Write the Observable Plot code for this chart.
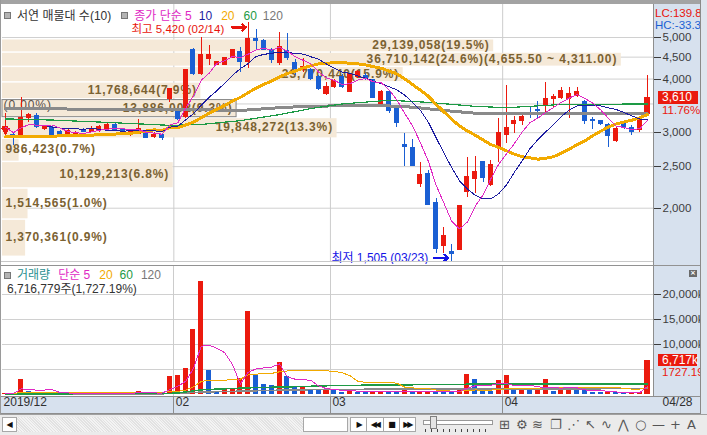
<!DOCTYPE html>
<html lang="ko">
<head>
<meta charset="utf-8">
<script src="https://cdn.jsdelivr.net/npm/d3@7"></script>
<script src="https://cdn.jsdelivr.net/npm/@observablehq/plot@0.6"></script>
<style>
html,body{margin:0;padding:0;background:#fff;}
#wrap{position:relative;width:707px;height:435px;overflow:hidden;background:#fff;font-family:"Liberation Sans",Arial,sans-serif;}
.sq{display:inline-block;width:5px;height:5px;background:#b4b4b4;border:1px solid #777;}
.lg3{font-family:"Liberation Sans","Noto Sans CJK KR",sans-serif;font-size:12px;line-height:12px;height:12px;white-space:nowrap;display:flex;align-items:center;}
.ic{position:absolute;top:0;font:13px/19px "DejaVu Sans",sans-serif;color:#555;}
</style>
</head>
<body>
<div id="wrap"></div>
<script>
// ---------------- data ----------------
const dates = [
"2019-12-27","2019-12-30",
"2020-01-02","2020-01-03","2020-01-06","2020-01-07","2020-01-08","2020-01-09","2020-01-10","2020-01-13","2020-01-14","2020-01-15","2020-01-16","2020-01-17","2020-01-20","2020-01-21","2020-01-22","2020-01-23","2020-01-28","2020-01-29","2020-01-30","2020-01-31",
"2020-02-03","2020-02-04","2020-02-05","2020-02-06","2020-02-07","2020-02-10","2020-02-11","2020-02-12","2020-02-13","2020-02-14","2020-02-17","2020-02-18","2020-02-19","2020-02-20","2020-02-21","2020-02-24","2020-02-25","2020-02-26","2020-02-27","2020-02-28",
"2020-03-02","2020-03-03","2020-03-04","2020-03-05","2020-03-06","2020-03-09","2020-03-10","2020-03-11","2020-03-12","2020-03-13","2020-03-16","2020-03-17","2020-03-18","2020-03-19","2020-03-20","2020-03-23","2020-03-24","2020-03-25","2020-03-26","2020-03-27","2020-03-30","2020-03-31",
"2020-04-01","2020-04-02","2020-04-03","2020-04-06","2020-04-07","2020-04-08","2020-04-09","2020-04-10","2020-04-13","2020-04-14","2020-04-16","2020-04-17","2020-04-20","2020-04-21","2020-04-22","2020-04-23","2020-04-24","2020-04-27","2020-04-28"];

const open = [3050,2965,
2910,3240,3280,3055,3080,3010,2975,2975,3025,3010,3035,3065,3130,3065,2965,2980,2990,2930,2965,3585,
3350,3255,4665,4120,4445,4320,4325,4485,4620,4380,4965,4920,4680,4355,4640,4355,4205,4190,4055,3695,
3830,4055,3730,4040,4075,3970,3470,3730,3410,2810,2765,2280,2405,2055,1635,1580,1600,2185,2335,2560,2270,2760,
2955,3135,3190,3340,3390,3485,3600,3610,3600,3650,3545,3210,3200,3120,2865,3135,3080,3050,3320];
const high = [3325,2985,
3630,3320,3320,3120,3105,3035,3045,3020,3065,3105,3120,3145,3145,3075,3045,3215,3010,3010,2985,3785,
3360,4195,4715,5010,4790,4405,4490,4690,4745,5420,5210,4945,4715,5145,5100,4435,4470,4235,4075,3925,
3990,4100,4120,4190,4120,3990,3760,3760,3435,2990,2885,2560,2450,2105,1800,1650,2025,2630,2640,2570,2585,3230,
3865,3280,3340,3430,3550,3920,3680,3815,3830,3815,3565,3250,3210,3145,3090,3155,3120,3260,4080];
const low = [3035,2800,
2900,3175,3065,3035,2905,2955,2965,2955,3000,3000,3010,3045,3020,2985,2945,2970,2905,2905,2875,3535,
3200,3235,4075,4075,4300,4300,4300,4470,4150,4225,4665,4665,4340,4300,4420,4075,4145,3970,3760,3660,
3805,3805,3720,4010,3970,3595,3440,3320,3090,2500,2500,2240,2025,1565,1565,1505,1590,2115,2170,2300,2245,2560,
2825,2980,3120,3230,3215,3330,3440,3580,3230,3630,3135,3045,3120,2765,2850,3045,2955,3010,3290];
const close = [3090,2910,
3240,3290,3090,3090,2920,2970,3020,3000,3015,3065,3090,3120,3035,3000,3020,3065,2910,2965,2915,3785,
3230,4195,4120,4540,4540,4380,4470,4665,4380,4965,4920,4680,4420,4745,4475,4225,4265,4010,3795,3830,
3960,3830,4100,4165,4005,3610,3730,3365,3155,2775,2515,2395,2030,1610,1720,1560,2025,2370,2435,2355,2525,2990,
3080,3200,3260,3310,3365,3600,3630,3760,3695,3740,3190,3195,3145,2945,3065,3075,3010,3230,3610];
const volume = [200000,150000,
3000000,600000,400000,300000,350000,200000,250000,180000,200000,260000,300000,280000,350000,250000,200000,500000,300000,250000,200000,3600000,
3800000,5200000,12900000,22500000,4800000,500000,900000,950000,3200000,16600000,3800000,1900000,1800000,6400000,3600000,1500000,1550000,1000000,850000,900000,
800000,450000,800000,450000,420000,600000,620000,580000,300000,900000,600000,620000,640000,600000,580000,300000,800000,4000000,3000000,650000,640000,2800000,
3800000,900000,1100000,800000,1100000,3000000,600000,900000,1050000,1040000,900000,450000,300000,600000,300000,280000,330000,388885,6716779];

const ma20EarlyDates = ["2019-12-27","2020-01-08","2020-01-16","2020-01-22"];
const ma20EarlyVals  = [2935,2945,2965,2990];
const vma20EarlyDates= ["2019-12-27","2020-01-02","2020-01-17"];
const vma20EarlyVals = [200000,330000,400000];
const ma60Dates  = ["2019-12-27","2020-01-08","2020-01-17","2020-01-31","2020-02-06","2020-02-13","2020-02-20","2020-02-26","2020-03-03","2020-03-11","2020-03-18","2020-03-26","2020-04-01","2020-04-10","2020-04-28"];
const ma60Vals   = [3230,3210,3170,3120,3135,3200,3305,3415,3500,3570,3530,3455,3430,3490,3500];
const ma120Dates = ["2019-12-27","2020-01-31","2020-02-13","2020-02-21","2020-03-02","2020-03-10","2020-03-16","2020-03-20","2020-03-26","2020-04-01","2020-04-28"];
const ma120Vals  = [3410,3400,3380,3440,3465,3470,3440,3380,3330,3320,3320];
const vma60Dates = ["2019-12-27","2020-01-30","2020-02-03","2020-02-06","2020-02-14","2020-02-25","2020-03-02","2020-03-31","2020-04-28"];
const vma60Vals  = [140000,160000,300000,930000,1330000,1590000,1790000,2100000,2130000];
const vma120Dates= ["2019-12-27","2020-01-30","2020-02-03","2020-02-06","2020-02-14","2020-02-20","2020-02-28","2020-03-12","2020-03-31","2020-04-28"];
const vma120Vals = [120000,140000,200000,480000,700000,860000,1000000,1080000,1130000,1150000];

// volume profile (매물대 10)
const bandEdges   = [5000,4655.5,4311,3966.5,3622,3277.5,2933,2588.5,2244,1899.5,1555];
const bandVolumes = [29139058,36710142,23770440,11768644,13886002,19848272,986423,10129213,1514565,1370361];
const extraLabels = [{text:"(0.00%)", price:3470}];

// tick values
const priceGrid  = [2000,2500,3000,3500,4000,4500,5000];
const priceTicks = [2000,2500,3000,4000,4500,5000];
const volGrid    = [5000000,10000000,15000000,20000000];
const volTicks   = [10000000,15000000,20000000];

// ---------------- setup ----------------
const RED="#eb1a0e", BLUE="#1a5fd3", MAG="#e028c4", NAVY="#1c1ca0", ORANGE="#f2aa00", GREEN="#1d9a45", GRAY="#8a8a8a";
const W = 707;
const fmt = d3.format(","), fmt2 = d3.format(",.2f");
const idx = new Map(dates.map((d,i)=>[d,i]));
const rows = dates.map((d,i)=>({i, date:d, open:open[i], high:high[i], low:low[i], close:close[i], vol:volume[i],
  up: close[i] >= open[i], vup: i === 0 ? true : volume[i] >= volume[i-1]}));
const pts = (ds, vs) => ds.map((d,k)=>({i: idx.get(d), v: vs[k]}));
const ma60 = pts(ma60Dates, ma60Vals), ma120 = pts(ma120Dates, ma120Vals);
const vma60 = pts(vma60Dates, vma60Vals), vma120 = pts(vma120Dates, vma120Vals);
const N = dates.length;
// early parts of the 20-day averages joined to the first full window
const full20 = rows.slice(0, 20);
const ma20Early = pts(ma20EarlyDates, ma20EarlyVals).concat([{i:19, v:d3.mean(full20, d=>d.close)}]);
const vma20Early = pts(vma20EarlyDates, vma20EarlyVals).concat([{i:19, v:d3.mean(full20, d=>d.vol)}]);

const xDom = [0, N-1], xRange = [5, 647];
const yPrice = {type:"log", domain:[2000,5000], range:[207.7,37]};
const monthStarts = dates.map((d,i)=> (i>5 && d.slice(5,7)!==dates[i-1].slice(5,7)) ? i : null).filter(v=>v!==null);
const sepTicks = monthStarts.map(i=>i-0.5);
const dateLabels = [{x:-0.5, label: dates[0].slice(0,4)+"/"+dates[0].slice(5,7)}]
  .concat(monthStarts.map(i=>({x:i-0.5, label:dates[i].slice(5,7)})));
const last = rows[N-1], prev = rows[N-2];
const hiRow = rows.reduce((a,b)=> b.high > a.high ? b : a);
const loRow = rows.reduce((a,b)=> b.low < a.low ? b : a);
const mmdd = d => d.slice(5,7)+"/"+d.slice(8,10);

const total = d3.sum(bandVolumes), vmax = d3.max(bandVolumes);
const bands = bandVolumes.map((v,k)=>({v, hi:bandEdges[k], lo:bandEdges[k+1],
  label: `${fmt(v)}(${(v/total*100).toFixed(1)}%)` + (v===vmax ? `(${fmt2(bandEdges[k])} ~ ${fmt2(bandEdges[k+1])})` : "")}));
const curBand = bands.filter(b => b.lo <= last.close && last.close < b.hi);

const wrap = document.getElementById("wrap");
function el(style, html="", parent=wrap, cls="") {
  const d = document.createElement("div");
  d.style.cssText = "position:absolute;" + style;
  if (cls) d.className = cls;
  d.innerHTML = html;
  parent.appendChild(d);
  return d;
}
function place(svg, top, z) {
  svg.style.position = "absolute"; svg.style.left = "0px"; svg.style.top = top + "px"; svg.style.zIndex = z;
  wrap.appendChild(svg);
}

// ---------------- backgrounds ----------------
el("left:653px;top:4px;width:47px;height:392px;background:#d7e1ee;border-left:1px solid #8e8e8e;box-sizing:border-box;z-index:0;");
el("left:0;top:396px;width:707px;height:18px;background:#d7e1ee;border-top:1px solid #8e8e8e;border-bottom:1px solid #8e8e8e;box-sizing:border-box;z-index:0;");

const common = {width:W, marginLeft:2, marginRight:54};
const KRF = "'Liberation Sans', 'Noto Sans CJK KR', sans-serif";

// grid layer (price pane)
const gridPlot = Plot.plot({...common, height:264, marginTop:4, marginBottom:2,
  x:{domain:xDom, range:xRange, axis:null}, y:{...yPrice, axis:null},
  style:{background:"transparent"},
  marks:[
    Plot.ruleY(priceGrid, {stroke:"#d0d0d0"}),
    Plot.ruleX(sepTicks, {stroke:"#cccccc"})
  ]});
place(gridPlot, 0, 1);

// volume-profile layer
const profPlot = Plot.plot({...common, height:264, marginTop:4, marginBottom:2,
  x:{domain:[0, vmax*1.052], range:[2,653], axis:null}, y:{...yPrice, axis:null},
  style:{background:"transparent", fontFamily:"'Liberation Sans', Arial, sans-serif", fontSize:"12px", fontWeight:"bold", letterSpacing:"0.9px"},
  marks:[
    Plot.rect(bands, {x1:d=>0, x2:"v", y1:"lo", y2:"hi", fill:"#f5e9d8", insetTop:2.5, insetBottom:-1}),
    Plot.rect(curBand, {x1:d=>0, x2:"v", y1:"lo", y2:"hi", fill:"none", stroke:"#858585", insetTop:2.5, insetBottom:-1}),
    Plot.text(bands.filter(b=>b.v>5e6), {x:"v", y:b=>Math.sqrt(b.lo*b.hi), text:"label", textAnchor:"end", dx:-4, dy:1, fill:"#7b6232"}),
    Plot.text(bands.filter(b=>b.v<=5e6), {x:d=>0, y:b=>Math.sqrt(b.lo*b.hi), text:"label", textAnchor:"start", dx:3, dy:1, fill:"#7b6232"}),
    Plot.text(extraLabels, {x:d=>0, y:"price", text:"text", textAnchor:"start", dx:1, fill:"#5a5048", fontWeight:"normal"})
  ]});
place(profPlot, 0, 2);

// candles + moving averages
const pricePlot = Plot.plot({...common, height:264, marginTop:4, marginBottom:2,
  x:{domain:xDom, range:xRange, axis:null}, y:yPrice,
  style:{background:"transparent", fontFamily:"'Liberation Sans', Arial, sans-serif", fontSize:"11.5px", shapeRendering:"crispEdges"},
  marks:[
    Plot.ruleX(rows, {x:"i", y1:"low", y2:"high", stroke:d=>d.up?RED:BLUE}),
    Plot.rect(rows, {x1:d=>d.i-0.32, x2:d=>d.i+0.32, y1:d=>Math.min(d.open,d.close), y2:d=>Math.max(d.open,d.close),
      fill:d=>d.up?RED:BLUE, insetTop:-0.5, insetBottom:-0.5}),
    Plot.dot([rows[0]], {x:"i", y:"open", symbol:"triangle", rotate:180, r:3.2, fill:RED, dy:1}),
    Plot.line(ma120, {x:"i", y:"v", stroke:GRAY, strokeWidth:3}),
    Plot.line(ma60, {x:"i", y:"v", stroke:GREEN, strokeWidth:1.2}),
    Plot.line(ma20Early, {x:"i", y:"v", stroke:ORANGE, strokeWidth:3}),
    Plot.line(rows, Plot.windowY({k:20, anchor:"end", strict:true}, {x:"i", y:"close", stroke:ORANGE, strokeWidth:3})),
    Plot.line(rows, Plot.windowY({k:10, anchor:"end"}, {x:"i", y:"close", stroke:NAVY, strokeWidth:1})),
    Plot.line(rows, Plot.windowY({k:5, anchor:"end"}, {x:"i", y:"close", stroke:MAG, strokeWidth:1})),
    Plot.axisY({anchor:"right", ticks:priceTicks, tickFormat:fmt, tickSize:7, tickPadding:2, color:"#3c3c3c", label:null}),
    Plot.text([hiRow], {x:"i", y:"high", text:d=>`최고 ${fmt(d.high)} (${mmdd(d.date)})`, textAnchor:"end", dx:-24, dy:7,
      fill:"#e8140c", fontFamily:KRF, fontSize:11.5}),
    Plot.arrow([hiRow], {x1:d=>d.i-2.1, x2:d=>d.i-0.28, y1:"high", y2:"high", dy:5, stroke:"#e8140c", strokeWidth:2.2, headLength:6, headAngle:80}),
    Plot.text([loRow], {x:"i", y:"low", text:d=>`최저 ${fmt(d.low)} (${mmdd(d.date)})`, textAnchor:"end", dx:-23.5, dy:-3.4,
      fill:"#1414e6", fontFamily:KRF, fontSize:12}),
    Plot.arrow([loRow], {x1:d=>d.i-2.3, x2:d=>d.i-0.45, y1:"low", y2:"low", dy:-3.4, stroke:"#1414e6", strokeWidth:2.2, headLength:6, headAngle:80})
  ]});
place(pricePlot, 0, 3);

// volume pane
const volPlot = Plot.plot({...common, height:150, marginTop:2, marginBottom:18,
  x:{domain:xDom, range:xRange},
  y:{domain:[0,20000000], range:[130,29.5]},
  style:{background:"transparent", fontFamily:"'Liberation Sans', Arial, sans-serif", fontSize:"11.5px", shapeRendering:"crispEdges"},
  marks:[
    Plot.ruleY(volGrid, {stroke:"#d0d0d0"}),
    Plot.ruleX(sepTicks, {stroke:"#cccccc"}),
    Plot.rect(rows, {x1:d=>d.i-0.32, x2:d=>d.i+0.32, y1:d=>0, y2:"vol", fill:d=>d.vup?RED:BLUE}),
    Plot.line(vma120, {x:"i", y:"v", stroke:GRAY, strokeWidth:1.5}),
    Plot.line(vma60, {x:"i", y:"v", stroke:GREEN, strokeWidth:1.5}),
    Plot.line(vma20Early, {x:"i", y:"v", stroke:ORANGE, strokeWidth:1}),
    Plot.line(rows, Plot.windowY({k:20, anchor:"end", strict:true}, {x:"i", y:"vol", stroke:ORANGE, strokeWidth:1})),
    Plot.line(rows, Plot.windowY({k:5, anchor:"end"}, {x:"i", y:"vol", stroke:MAG, strokeWidth:1})),
    Plot.axisY({anchor:"right", ticks:volTicks, tickFormat:d=>fmt(d/1000)+"k", tickSize:7, tickPadding:2, color:"#3c3c3c", label:null}),
    Plot.axisX({ticks:sepTicks, tickSize:17, tickFormat:()=> "", color:"#8e8e8e", label:null}),
    Plot.text(dateLabels, {x:"x", text:"label", frameAnchor:"bottom", dy:9, dx:2, textAnchor:"start", fill:"#303030", fontSize:12}),
    Plot.text([last], {x:"i", text:d=>mmdd(d.date), frameAnchor:"bottom", dy:9, dx:15, textAnchor:"start", fill:"#303030", fontSize:12})
  ]});
place(volPlot, 264, 3);

// ---------------- overlays ----------------
const Z = "z-index:5;";
// window frame
el(Z+"left:0;top:0;width:707px;height:4px;background:#a3a3a3;");
el(Z+"left:0;top:0;width:1px;height:414px;background:#9a9a9a;");
el(Z+"left:700px;top:0;width:7px;height:414px;background:#dfe5ee;border-left:1px solid #8a8a8a;box-sizing:border-box;");
// pane separators
el(Z+"left:1px;top:261px;width:652px;height:1px;background:#c8c8c8;");
el(Z+"left:1px;top:265px;width:699px;height:1px;background:#929292;");

// legends
el(Z+"left:4px;top:9.5px;", `<span class="sq"></span><span style="margin-left:6px;color:#333">서연 매물대 수(10)</span>`+
  `<span class="sq" style="margin-left:10px"></span><span style="margin-left:6px;color:${MAG}">종가 단순 5</span>`+
  `<span style="margin-left:7px;color:${NAVY}">10</span><span style="margin-left:9px;color:${ORANGE}">20</span>`+
  `<span style="margin-left:9px;color:${GREEN}">60</span><span style="margin-left:6px;color:#777">120</span>`, wrap, "lg3");
el(Z+"left:4px;top:269px;", `<span class="sq"></span><span style="margin-left:6px;color:#2a9090">거래량</span>`+
  `<span style="margin-left:8px;color:${MAG}">단순 5</span><span style="margin-left:9px;color:${ORANGE}">20</span>`+
  `<span style="margin-left:7px;color:${GREEN}">60</span><span style="margin-left:8px;color:#777">120</span>`, wrap, "lg3");
el(Z+"left:7px;top:282.5px;color:#333;", `<span>${fmt(last.vol)}주(${fmt2(last.vol/prev.vol*100)}%)</span>`, wrap, "lg3");

// right-panel labels (clipped at the panel edge, as in the original)
const rp = el(Z+"left:654px;top:4px;width:46px;height:392px;overflow:hidden;");
const lc = (last.close/loRow.low - 1)*100, hc = (last.close/hiRow.high - 1)*100;
el(`left:1px;top:4px;font:11.5px/11px 'Liberation Sans';color:#e8140c;white-space:nowrap;`, `LC:${lc.toFixed(2)}%`, rp);
el(`left:1px;top:16px;font:11.5px/11px 'Liberation Sans';color:${BLUE};white-space:nowrap;`, `HC:${hc.toFixed(2)}%`, rp);
const yL = pricePlot.scale("y").apply(last.close) - 4;
el(`left:4px;top:${yL-6.5}px;width:40px;height:13px;background:#ea1a0e;color:#fff;font:12px/13px 'Liberation Sans';padding-left:4px;box-sizing:border-box;`, fmt(last.close), rp);
el(`left:8px;top:${yL+7}px;font:11.5px/11px 'Liberation Sans';color:#ea1a0e;white-space:nowrap;`, `${((last.close/prev.close-1)*100).toFixed(2)}%`, rp);
const yV = 264 + volPlot.scale("y").apply(last.vol) - 4;
el(`left:4px;top:${yV-6}px;width:39px;height:12px;background:#ea1a0e;color:#fff;font:12px/12px 'Liberation Sans';padding-left:4px;box-sizing:border-box;`, fmt(Math.round(last.vol/1000))+"k", rp);
el(`left:8px;top:${yV+7}px;font:11.5px/11px 'Liberation Sans';color:#ea1a0e;white-space:nowrap;`, `${(last.vol/prev.vol*100).toFixed(2)}%`, rp);
el(`left:35px;top:266px;width:8px;height:7px;background:#6a6a6a;color:#fff;font:bold 7px/7px 'DejaVu Sans';text-align:center;`, "×", rp);

// ---------------- toolbar ----------------
const tb = el(Z+"left:0;top:414px;width:707px;height:21px;background:#ebebeb;border-top:1px solid #a0a0a0;box-sizing:border-box;");
el("left:2px;top:2px;width:15px;height:15px;background:#fff;border:1px solid #a8a8a8;box-sizing:border-box;font:8px/13px 'DejaVu Sans';text-align:center;color:#111;", "◀", tb);
el("left:17px;top:2px;width:286px;height:15px;background:repeating-linear-gradient(45deg,#f3f3f3 0 1px,#e2e2e2 1px 2px);", "", tb);
el("left:303px;top:2px;width:45px;height:15px;background:#fff;border:1px solid #a8a8a8;box-sizing:border-box;", "", tb);
const bg = el("left:350px;top:2px;width:66px;height:15px;background:#fff;border:1px solid #a8a8a8;box-sizing:border-box;display:flex;", "", tb);
["▶","◀◀","■","▶▶"].forEach((g,k)=>{
  const c = document.createElement("div");
  c.style.cssText = "width:16px;height:13px;font:bold 8px/13px 'DejaVu Sans';text-align:center;color:#111;letter-spacing:-2px;" + (k<3?"border-right:1px solid #a8a8a8;":"");
  c.textContent = g; bg.appendChild(c);
});
el("left:423px;top:5px;width:68px;height:3px;background:#fff;border:1px solid #999;", "", tb);
el("left:430px;top:1px;width:5px;height:11px;background:#e4e4e4;border:1px solid #808080;", "", tb);
el("left:425px;top:14px;width:64px;height:3px;background:repeating-linear-gradient(90deg,#444 0 1px,transparent 1px 6px);", "", tb);
[["⊞",499],["⚙",516],["≋",532],["❐",550],["⋰",567],["↖",585],["∿",601],["⋀",618],["○",635],["—",652],["+",670],["A",687]].forEach(([g,x])=>{
  el(`left:${x}px;`, g, tb, "ic");
});
</script>
</body>
</html>
